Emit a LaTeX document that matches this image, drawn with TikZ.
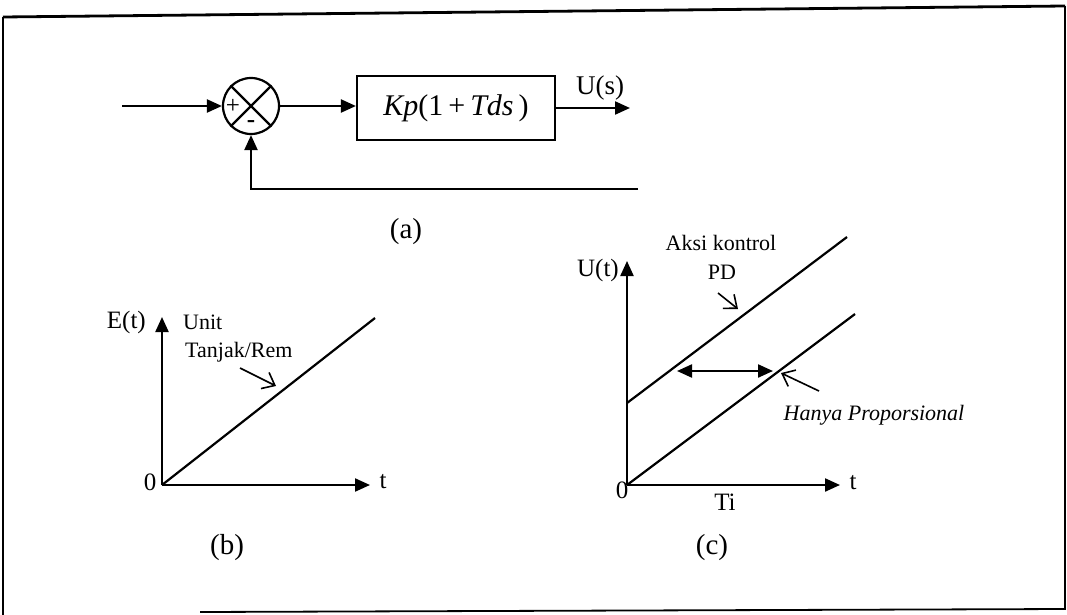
\documentclass[tikz,border=0pt]{standalone}
\usepackage{fontspec}
\setmainfont{Liberation Serif}
\usetikzlibrary{arrows.meta}
\begin{document}
\begin{tikzpicture}[x=1pt,y=-1pt,
  ln/.style={line width=2.2pt},
  tri/.style={-{Triangle[length=15pt,width=13pt]}},
  dtri/.style={{Triangle[length=15pt,width=13pt]}-{Triangle[length=15pt,width=13pt]}},
  barb/.style={line width=1.6pt,-{Straight Barb[length=11pt,width=18pt,line width=1.6pt]}},
  lbl/.style={inner sep=0pt,font=\fontsize{25}{28}\selectfont},
  sml/.style={inner sep=0pt,font=\fontsize{22}{26}\selectfont},
  caplbl/.style={inner sep=0pt,font=\fontsize{29}{32}\selectfont},
  framel/.style={line width=1.2pt}]
\useasboundingbox (0,0) rectangle (1067,615);
% frame
\draw[line width=2.8pt] (3,17) -- (1065,6);
\draw[framel] (3,17) -- (3,615);
\draw[framel] (1065,6) -- (1065,610);
\draw[line width=1.8pt] (200,612) -- (1065,609);

% ---------- (a) block diagram ----------
\node[draw,ln,circle,minimum size=56pt,inner sep=0pt] (sum) at (251,106) {};
\draw[ln] (sum.north west) -- (sum.south east);
\draw[ln] (sum.north east) -- (sum.south west);
\node[inner sep=0pt,font=\fontsize{25}{26}\selectfont] (plus) at (233,106) {+};
\node[inner sep=0pt,font=\fontsize{25}{26}\selectfont\bfseries] (minus) at (251,124) {-};
\node[draw,ln,minimum width=198pt,minimum height=64pt,inner sep=0pt,
      font=\fontsize{30}{34}\selectfont] (ctrl) at (456,108)
      {{\itshape Kp}(1\,+\,{\itshape Tds}\,)};
\coordinate (in) at (122,106);
\coordinate (out) at (630,108);
\coordinate (fb) at (638,189);
\draw[ln,tri] (in) -- (sum.west);
\draw[ln,tri] (sum.east) -- (sum.east -| ctrl.west);
\draw[ln,tri] (ctrl.east) -- (out);
\node[inner sep=0pt,font=\fontsize{27}{29}\selectfont] (us) at (600,88) {U(s)};
\draw[ln,tri] (fb) -- (fb -| sum.south) -- (sum.south);
\node[caplbl] (la) at (406,232) {(a)};

% ---------- (b) ramp input ----------
\coordinate (bo) at (162,485);
\coordinate (byt) at (162,317);
\coordinate (bxt) at (370,485);
\coordinate (bre) at (375,318);
\draw[ln,tri] (bo) -- (byt);
\draw[ln,tri] (bo) -- (bxt);
\draw[ln] (bo) -- (bre);
\node[lbl,anchor=east] (et) at (146,322) {E(t)};
\node[sml,anchor=west] (unit) at (183,322) {Unit};
\node[sml,anchor=west] (tr) at (185,352) {Tanjak/Rem};
\coordinate (ba1) at (240,368);
\coordinate (ba2) at (276,386);
\draw[barb] (ba1) -- (ba2);
\node[lbl] (b0) at (150,482) {0};
\node[lbl] (bt) at (383,482) {t};
\node[caplbl] (lb) at (227,548) {(b)};

% ---------- (c) PD response ----------
\coordinate (co) at (627,485);
\coordinate (cyt) at (627,261);
\coordinate (cxt) at (840,485);
\coordinate (cu1) at (627,403);
\coordinate (cu2) at (847,237);
\coordinate (cl2) at (855,314);
\draw[ln,tri] (co) -- (cyt);
\draw[ln,tri] (co) -- (cxt);
\draw[ln] (cu1) -- (cu2);
\draw[ln] (co) -- (cl2);
\node[lbl,anchor=east] (ut) at (619,270) {U(t)};
\node[sml] (aksi) at (721,243) {Aksi kontrol};
\node[sml] (pd) at (722,272) {PD};
\coordinate (pa1) at (718,293);
\coordinate (pa2) at (738,309);
\draw[barb] (pa1) -- (pa2);
\coordinate (d1) at (677,371);
\coordinate (d2) at (773,371);
\draw[ln,dtri] (d1) -- (d2);
\coordinate (ha1) at (819,391);
\coordinate (ha2) at (781,373);
\draw[barb] (ha1) -- (ha2);
\node[sml,font=\fontsize{22}{26}\selectfont\itshape] (hp) at (874,415) {Hanya Proporsional};
\node[lbl] (c0) at (622,490) {0};
\node[lbl] (ct) at (853,483) {t};
\node[lbl] (ti) at (725,502) {Ti};
\node[caplbl] (lc) at (712,548) {(c)};
\end{tikzpicture}
\end{document}
